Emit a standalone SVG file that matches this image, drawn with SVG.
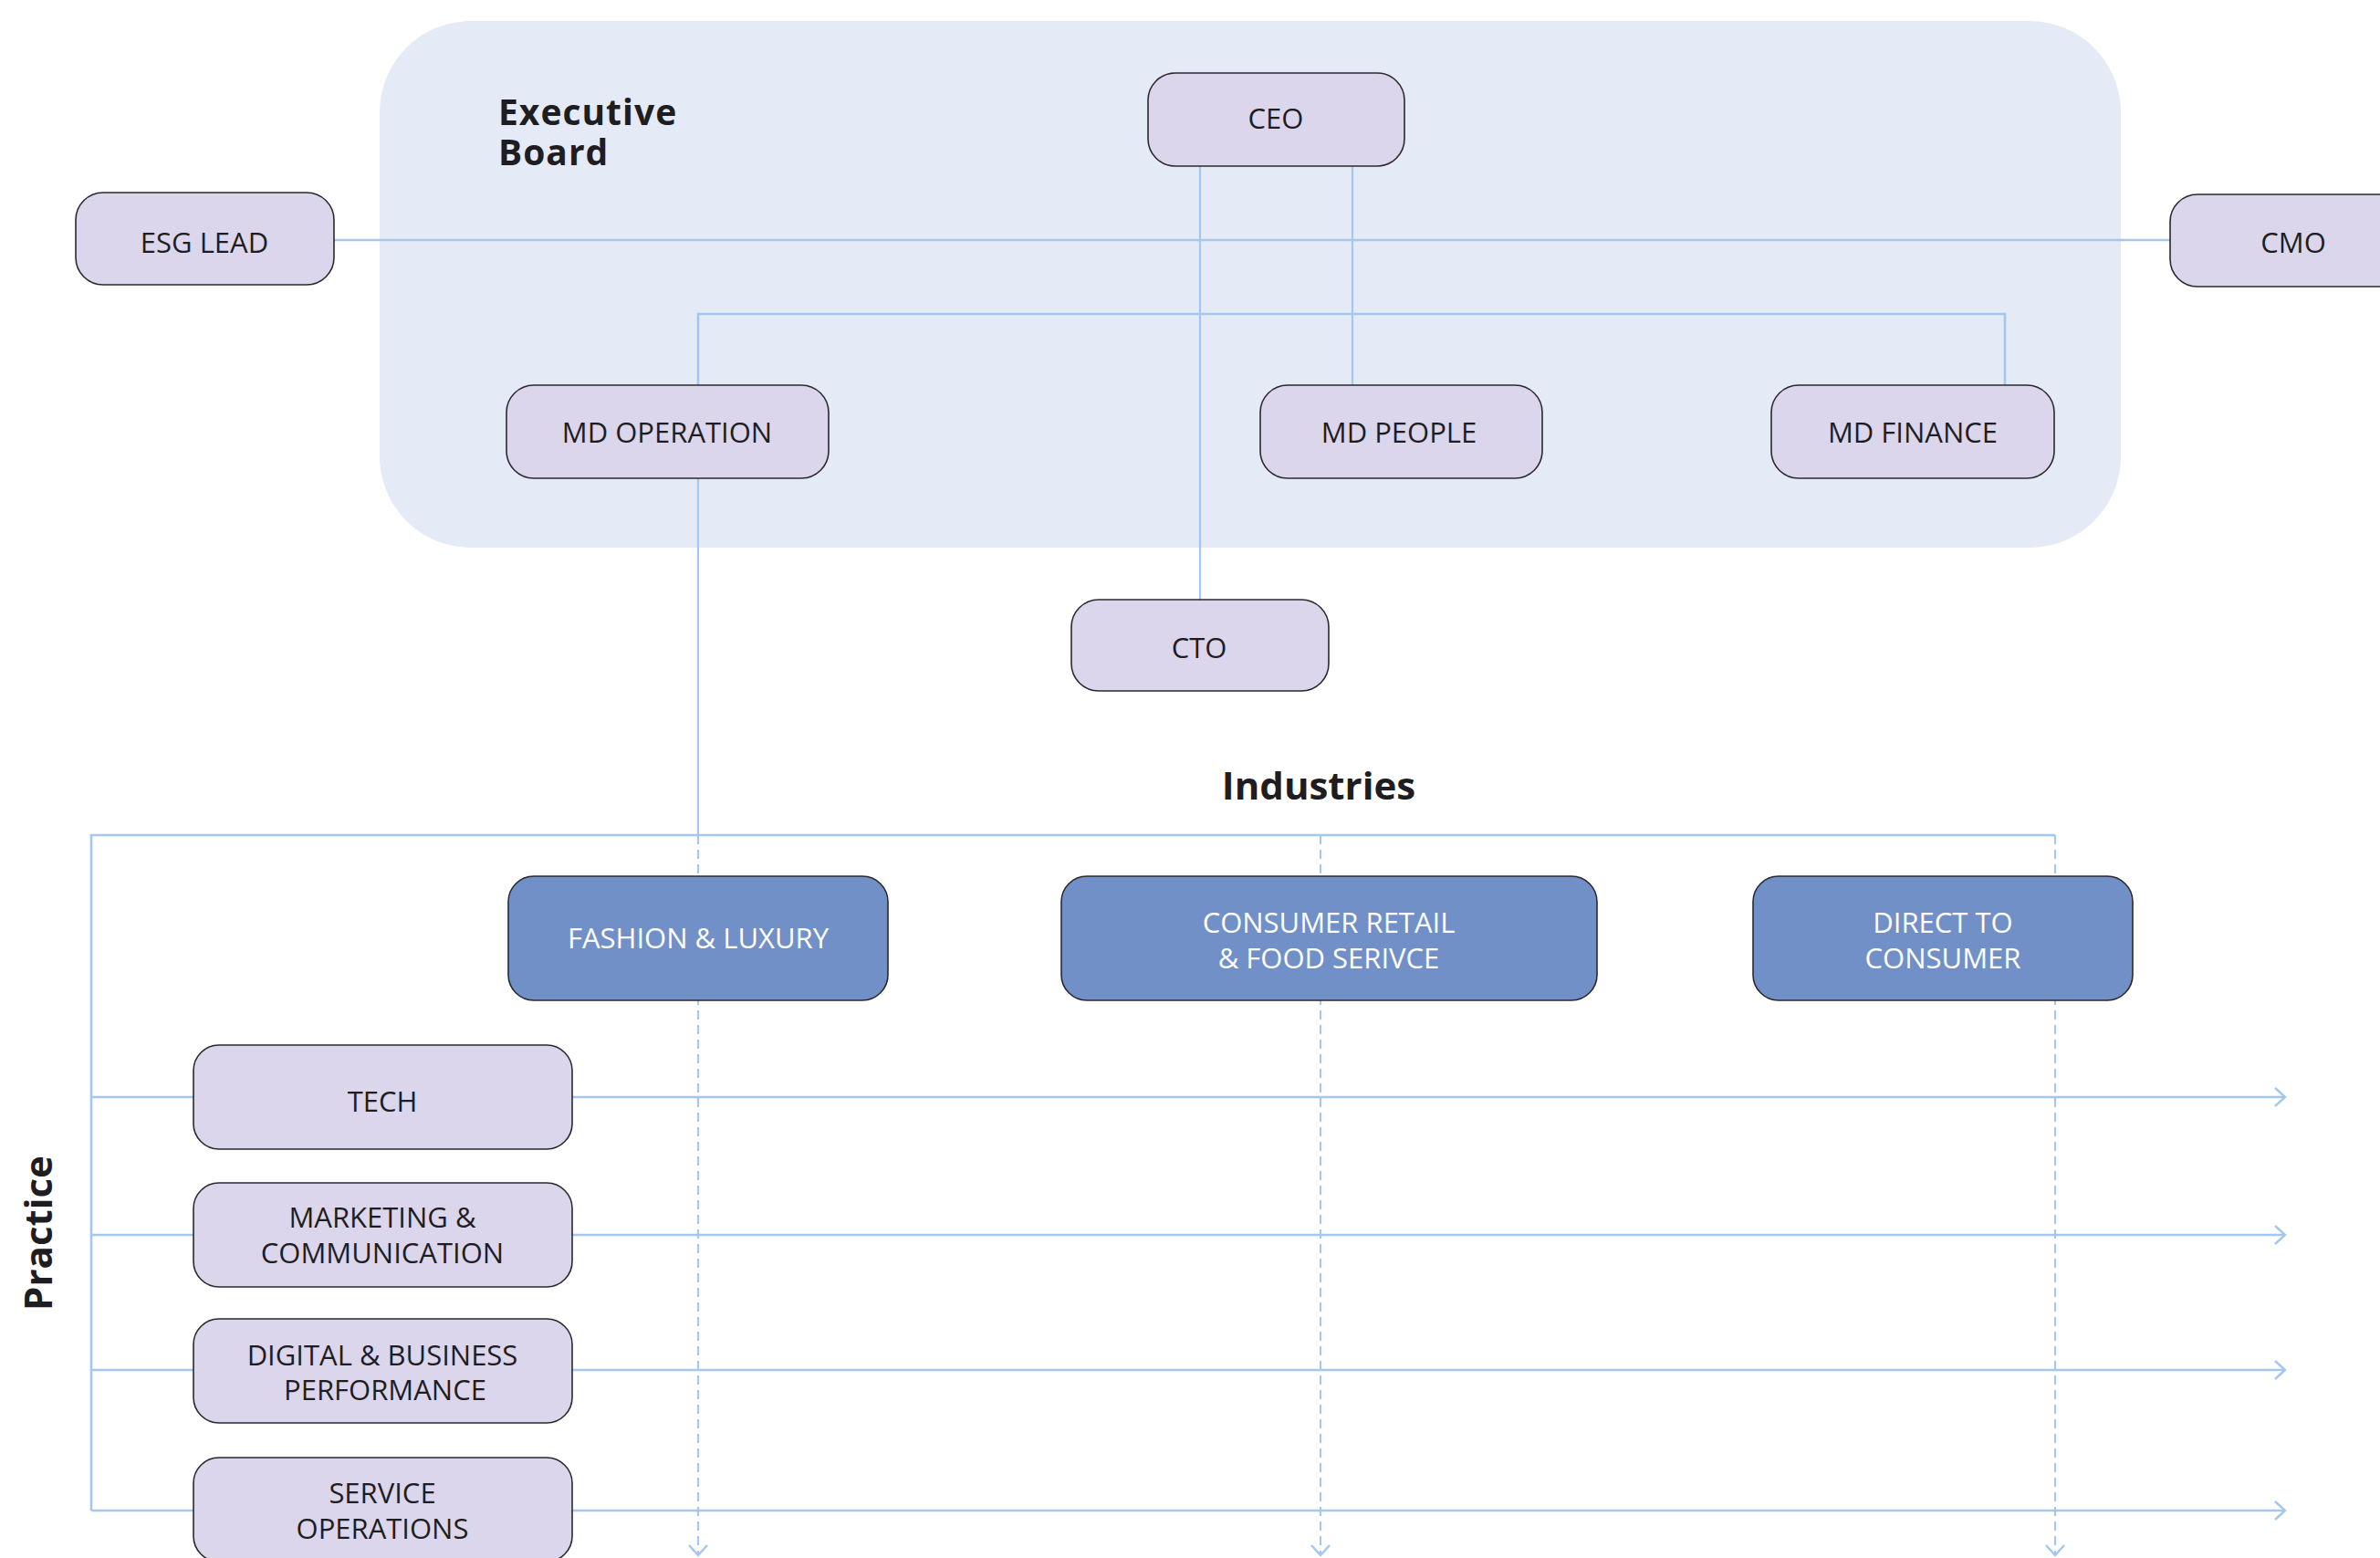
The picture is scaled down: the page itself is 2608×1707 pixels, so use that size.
<svg xmlns="http://www.w3.org/2000/svg" width="2608" height="1707" viewBox="0 0 2608 1707">
<defs>
<style>
.node rect{stroke:#2a2a2e;stroke-width:1.6}
.lav rect{fill:#dcd6ec}
.ind rect{fill:#7190c8}
.lav text{fill:#1e1e22}
.ind text{fill:#ffffff}
text{font-family:"Open Sans","Noto Sans",sans-serif;font-size:31px;text-anchor:middle}
.title{font-weight:700;font-size:42px;fill:#1e1e22}
.eb{font-weight:700;font-size:39px;fill:#1e1e22;text-anchor:start;letter-spacing:1px}
.ln{stroke:#a3c7ee;stroke-width:2.6;fill:none}
.thin{stroke:#a3c7ee;stroke-width:2.2;fill:none}
.dash{stroke:#a3c7ee;stroke-width:2.2;fill:none;stroke-dasharray:10 6}
</style>
<marker id="arr" viewBox="0 0 14 22" refX="12" refY="11" markerWidth="14" markerHeight="22" markerUnits="userSpaceOnUse" orient="auto">
<path d="M1,1 L12,11 L1,21" fill="none" stroke="#a3c7ee" stroke-width="2.4"/>
</marker>
</defs>
<rect width="2608" height="1707" fill="#ffffff"/>
<rect id="executive-board-area" x="416" y="23" width="1908" height="577" rx="100" ry="100" fill="#e5eaf7"/>
<text class="eb" x="546" y="137"><tspan x="546" y="137">Executive</tspan><tspan x="546" y="181">Board</tspan></text>
<text class="title" x="1445" y="876">Industries</text>
<text class="title" transform="translate(57,1351) rotate(-90)">Practice</text>

<g id="connectors">
<line class="ln" x1="366" y1="263" x2="2378" y2="263"/>
<line class="thin" x1="1315" y1="182" x2="1315" y2="657"/>
<line class="thin" x1="1482" y1="182" x2="1482" y2="422"/>
<polyline class="ln" points="765,422 765,344 2197,344 2197,422"/>
<line class="thin" x1="765" y1="524" x2="765" y2="915"/>
<polyline class="ln" points="100,1655 100,915 2252,915"/>
<line class="dash" x1="765" y1="915" x2="765" y2="1704" marker-end="url(#arr)"/>
<line class="dash" x1="1447" y1="915" x2="1447" y2="1704" marker-end="url(#arr)"/>
<line class="dash" x1="2252" y1="915" x2="2252" y2="1704" marker-end="url(#arr)"/>
<line class="ln" x1="100" y1="1202" x2="2504" y2="1202" marker-end="url(#arr)"/>
<line class="ln" x1="100" y1="1353" x2="2504" y2="1353" marker-end="url(#arr)"/>
<line class="ln" x1="100" y1="1501" x2="2504" y2="1501" marker-end="url(#arr)"/>
<line class="ln" x1="100" y1="1655" x2="2504" y2="1655" marker-end="url(#arr)"/>
</g>

<g id="ceo" class="node lav"><rect x="1258" y="80" width="281" height="102" rx="30"/><text x="1398" y="141">CEO</text></g>
<g id="esg-lead" class="node lav"><rect x="83" y="211" width="283" height="101" rx="30"/><text x="224" y="277">ESG LEAD</text></g>
<g id="cmo" class="node lav"><rect x="2378" y="213" width="286" height="101" rx="30"/><text x="2513" y="277">CMO</text></g>
<g id="md-operation" class="node lav"><rect x="555" y="422" width="353" height="102" rx="30"/><text x="731" y="485">MD OPERATION</text></g>
<g id="md-people" class="node lav"><rect x="1381" y="422" width="309" height="102" rx="30"/><text x="1533" y="485">MD PEOPLE</text></g>
<g id="md-finance" class="node lav"><rect x="1941" y="422" width="310" height="102" rx="30"/><text x="2096" y="485">MD FINANCE</text></g>
<g id="cto" class="node lav"><rect x="1174" y="657" width="282" height="100" rx="30"/><text x="1314" y="721">CTO</text></g>

<g id="fashion-luxury" class="node ind"><rect x="557" y="960" width="416" height="136" rx="28"/><text x="765" y="1039">FASHION &amp; LUXURY</text></g>
<g id="consumer-retail" class="node ind"><rect x="1163" y="960" width="587" height="136" rx="28"/><text x="1456" y="1022">CONSUMER RETAIL</text><text x="1456" y="1061">&amp; FOOD SERIVCE</text></g>
<g id="direct-to-consumer" class="node ind"><rect x="1921" y="960" width="416" height="136" rx="28"/><text x="2129" y="1022">DIRECT TO</text><text x="2129" y="1061">CONSUMER</text></g>

<g id="tech" class="node lav"><rect x="212" y="1145" width="415" height="114" rx="28"/><text x="419" y="1218">TECH</text></g>
<g id="marketing" class="node lav"><rect x="212" y="1296" width="415" height="114" rx="28"/><text x="419" y="1345">MARKETING &amp;</text><text x="419" y="1384">COMMUNICATION</text></g>
<g id="digital" class="node lav"><rect x="212" y="1445" width="415" height="114" rx="28"/><text x="419" y="1496">DIGITAL &amp; BUSINESS</text><text x="422" y="1534">PERFORMANCE</text></g>
<g id="service" class="node lav"><rect x="212" y="1597" width="415" height="114" rx="28"/><text x="419" y="1647">SERVICE</text><text x="419" y="1686">OPERATIONS</text></g>
</svg>
